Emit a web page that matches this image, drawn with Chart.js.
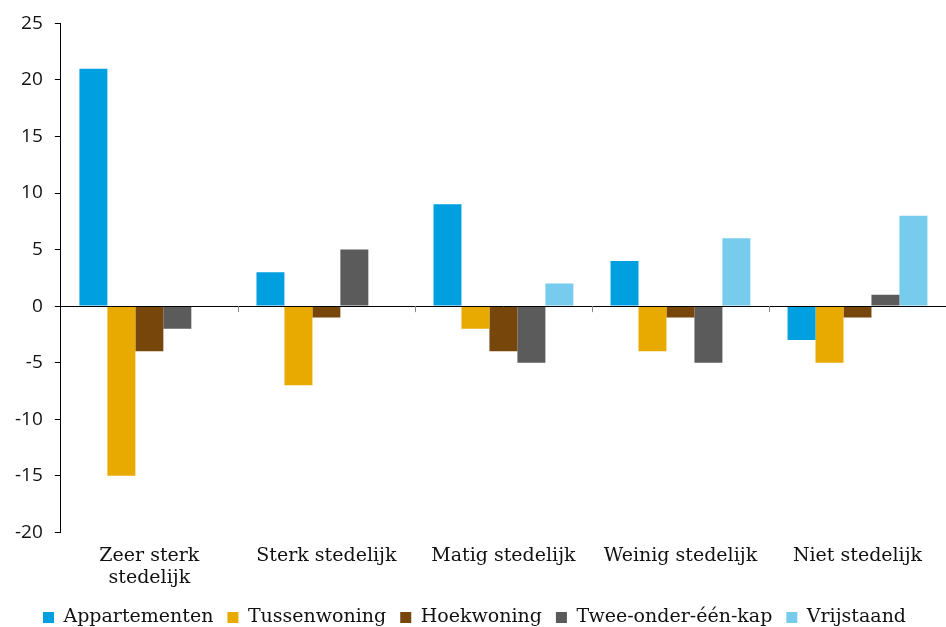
<!DOCTYPE html>
<html>
<head>
<meta charset="utf-8">
<script src="https://cdn.jsdelivr.net/npm/chart.js@4"></script>
<style>
  body { margin: 0; background: #fff; }
  #wrap { width: 946px; height: 627px; }
</style>
</head>
<body>
<div id="wrap"><canvas id="chart"></canvas></div>
<script>
// Data
const categories = [['Zeer sterk', 'stedelijk'], 'Sterk stedelijk', 'Matig stedelijk', 'Weinig stedelijk', 'Niet stedelijk'];
const appartementen = [21, 3, 9, 4, -3];
const tussenwoning = [-15, -7, -2, -4, -5];
const hoekwoning = [-4, -1, -4, -1, -1];
const tweeOnderEenKap = [-2, 5, -5, -5, 1];
const vrijstaand = [null, null, 2, 6, 8];
const yTicks = [-20, -15, -10, -5, 0, 5, 10, 15, 20, 25];

const serif = '"DejaVu Serif", serif';
const sans = '"Open Sans", sans-serif';

// Zero line + small tick marks between categories
const zeroLine = {
    id: 'zeroLine',
    afterDatasetsDraw(chart) {
        const ctx = chart.ctx;
        const x = chart.scales.x;
        const y0 = chart.scales.y.getPixelForValue(0);
        ctx.save();
        ctx.strokeStyle = '#000';
        ctx.lineWidth = 1;
        ctx.beginPath();
        ctx.moveTo(chart.chartArea.left, Math.round(y0) + 0.5);
        ctx.lineTo(chart.chartArea.right, Math.round(y0) + 0.5);
        ctx.stroke();
        ctx.strokeStyle = '#888';
        for (let i = 1; i < categories.length; i++) {
            const px = Math.round(x.getPixelForValue(i - 0.5)) + 0.5;
            ctx.beginPath();
            ctx.moveTo(px, y0);
            ctx.lineTo(px, y0 + 6);
            ctx.stroke();
        }
        ctx.restore();
    }
};

// Wider gaps between legend items without the extra height
const tightLegend = {
    id: 'tightLegend',
    afterInit(chart) {
        const legend = chart.legend;
        if (!legend) return;
        const fit = legend.fit;
        legend.fit = function() {
            fit.call(this);
            this.height -= 10;
        };
    }
};

const ctx = document.getElementById('chart').getContext('2d');
new Chart(ctx, {
    type: 'bar',
    data: {
        labels: categories,
        datasets: [
            { label: 'Appartementen', data: appartementen, backgroundColor: '#009FDF' },
            { label: 'Tussenwoning', data: tussenwoning, backgroundColor: '#E8A900' },
            { label: 'Hoekwoning', data: hoekwoning, backgroundColor: '#77460A' },
            { label: 'Twee-onder-één-kap', data: tweeOnderEenKap, backgroundColor: '#5B5B5B' },
            { label: 'Vrijstaand', data: vrijstaand, backgroundColor: '#77CCEE' }
        ]
    },
    options: {
        responsive: true,
        maintainAspectRatio: false,
        animation: false,
        layout: { padding: { top: 19, right: 0, left: 3, bottom: 0 } },
        datasets: { bar: { barPercentage: 1, categoryPercentage: 0.79 } },
        plugins: {
            tooltip: { enabled: false },
            legend: {
                position: 'bottom',
                labels: {
                    boxWidth: 11,
                    boxHeight: 11,
                    padding: 14,
                    color: '#111',
                    font: { family: serif, size: 19 }
                }
            }
        },
        scales: {
            x: {
                grid: { display: false },
                border: { display: false },
                ticks: {
                    maxRotation: 0,
                    autoSkip: false,
                    color: '#111',
                    padding: 5,
                    font: { family: serif, size: 19, lineHeight: 1.15 }
                }
            },
            y: {
                min: -20,
                max: 25,
                afterBuildTicks(scale) {
                    scale.ticks = yTicks.map(v => ({ value: v }));
                },
                grid: {
                    drawOnChartArea: false,
                    drawTicks: true,
                    tickLength: 6,
                    color: '#000'
                },
                border: { display: true, color: '#000' },
                ticks: {
                    color: '#111',
                    padding: 12,
                    font: { family: sans, size: 19 }
                }
            }
        }
    },
    plugins: [zeroLine, tightLegend]
});
</script>
</body>
</html>
